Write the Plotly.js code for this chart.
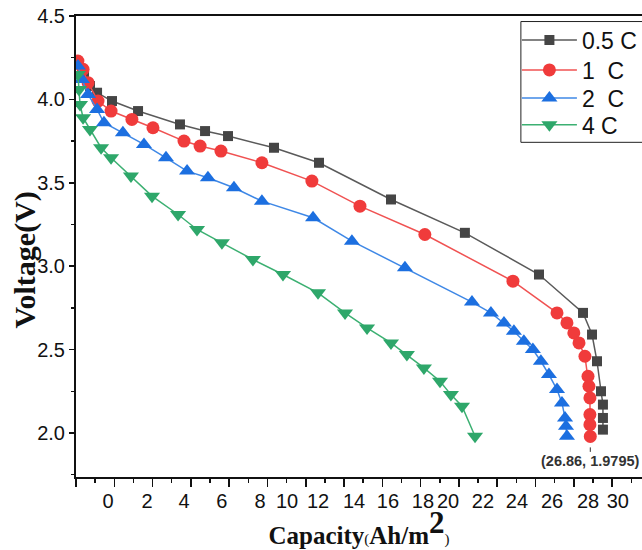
<!DOCTYPE html>
<html>
<head>
<meta charset="utf-8">
<script src="https://cdn.plot.ly/plotly-3.0.1.min.js"></script>
<style>html,body{margin:0;padding:0;background:#fff;}#chart{width:642px;height:550px;}</style>
</head>
<body>
<div id="chart"></div>
<script>
// Series names
const seriesNames = ['0.5\u00a0C', '1\u00a0\u00a0C', '2\u00a0\u00a0C', '4\u00a0C'];

// 0.5 C
const capHalfC = [0.1, 0.42, 0.73, 1.1, 1.88, 3.24, 5.43, 6.74, 7.94, 10.34, 12.69, 16.45, 20.31, 24.18, 26.48, 26.95, 27.21, 27.42, 27.52, 27.52, 27.52];
const voltHalfC = [4.21, 4.14, 4.08, 4.04, 3.99, 3.93, 3.85, 3.81, 3.78, 3.71, 3.62, 3.40, 3.20, 2.95, 2.72, 2.59, 2.43, 2.25, 2.17, 2.09, 2.02];

// 1 C
const cap1C = [0.1, 0.37, 0.63, 1.15, 1.83, 2.92, 4.02, 5.64, 6.48, 7.57, 9.71, 12.32, 14.83, 18.22, 22.82, 25.12, 25.64, 26.0, 26.27, 26.58, 26.74, 26.79, 26.84, 26.84, 26.84, 26.86];
const volt1C = [4.23, 4.18, 4.10, 3.99, 3.93, 3.88, 3.83, 3.75, 3.72, 3.69, 3.62, 3.51, 3.36, 3.19, 2.91, 2.72, 2.66, 2.60, 2.54, 2.46, 2.34, 2.28, 2.21, 2.11, 2.05, 1.9795];

// 2 C
const cap2C = [0.1, 0.31, 0.63, 1.1, 1.46, 2.45, 3.55, 4.70, 5.80, 6.89, 8.25, 9.71, 12.38, 14.41, 17.18, 20.68, 21.67, 22.35, 22.87, 23.39, 23.86, 24.28, 24.70, 25.12, 25.38, 25.54, 25.59, 25.64];
const volt2C = [4.20, 4.12, 4.03, 3.94, 3.86, 3.80, 3.73, 3.65, 3.57, 3.53, 3.47, 3.39, 3.29, 3.15, 2.99, 2.785, 2.72, 2.66, 2.61, 2.55, 2.50, 2.43, 2.35, 2.26, 2.18, 2.09, 2.04, 1.98];

// 4 C
const cap4C = [0.1, 0.16, 0.21, 0.37, 0.73, 1.31, 1.83, 2.87, 3.97, 5.33, 6.32, 7.62, 9.24, 10.81, 12.64, 14.05, 15.20, 16.45, 17.28, 18.17, 19.01, 19.58, 20.16, 20.84];
const volt4C = [4.15, 4.06, 3.97, 3.89, 3.82, 3.71, 3.65, 3.54, 3.42, 3.31, 3.22, 3.14, 3.04, 2.95, 2.84, 2.72, 2.63, 2.54, 2.47, 2.39, 2.31, 2.23, 2.16, 1.98];

// Tick labels as printed under the capacity axis, and where they sit on it (Ah/m2)
const xTickLabels = ['0', '2', '4', '6', '8', '10', '12', '14', '16', '18', '20', '22', '24', '26', '28', '30'];
const xTickLabelAt = [1.67, 3.71, 5.64, 7.62, 9.61, 11.02, 12.64, 14.52, 16.29, 18.12, 19.43, 21.25, 23.03, 24.86, 26.74, 28.30];

// Highlighted point
const markPoint = {x: 26.86, y: 1.9795, label: '(26.86, 1.9795)'};

const X_RANGE = [0, 29.56];
const Y_RANGE = [1.736, 4.5];

function trace(x, y, name, lineColor, markerColor, symbol, size, legendId) {
  return {
    x: x, y: y, name: name, type: 'scatter', mode: 'lines+markers',
    line: {color: lineColor, width: 1.5},
    marker: {color: markerColor, symbol: symbol, size: size, line: {width: 0}},
    legend: legendId
  };
}

const data = [
  trace(capHalfC, voltHalfC, seriesNames[0], '#5a5a5a', '#454545', 'square', 10, 'legend'),
  trace(cap1C, volt1C, seriesNames[1], '#f05252', '#f03b3b', 'circle', 13, 'legend2'),
  trace(cap2C, volt2C, seriesNames[2], '#3f88e6', '#1c6fe0', 'triangle-up', 14, 'legend3'),
  trace(cap4C, volt4C, seriesNames[3], '#3cb072', '#2ea76a', 'triangle-down', 14, 'legend4')
];

// dummy invisible trace to activate the label axis
data.push({x: [X_RANGE[0]], y: [Y_RANGE[0]], xaxis: 'x2', yaxis: 'y', mode: 'markers', marker: {opacity: 0}, showlegend: false, hoverinfo: 'skip'});

function legendAt(yPaper) {
  return {
    x: 0.779, y: yPaper, xanchor: 'left', yanchor: 'middle',
    bgcolor: 'rgba(0,0,0,0)', borderwidth: 0,
    font: {size: 23, color: '#111'}, itemwidth: 55
  };
}

const layout = {
  width: 642, height: 550,
  margin: {l: 76, r: 0, t: 16, b: 73},
  paper_bgcolor: '#fff', plot_bgcolor: '#fff',
  font: {family: 'Arial, Liberation Sans, sans-serif', color: '#111'},
  showlegend: true,
  legend: legendAt(0.948),
  legend2: legendAt(0.883),
  legend3: legendAt(0.822),
  legend4: legendAt(0.764),
  shapes: [{
    type: 'rect', xref: 'paper', yref: 'paper', layer: 'above',
    x0: 0.786, x1: 1.1, y0: 0.726, y1: 0.988,
    line: {color: '#222', width: 1}, fillcolor: '#fff'
  }],
  xaxis: {
    range: X_RANGE, showgrid: false, zeroline: false,
    showline: true, linecolor: '#111', linewidth: 2, mirror: true,
    ticks: 'outside', ticklen: 8, tickwidth: 1.5, tickcolor: '#111',
    tick0: 0, dtick: 2, showticklabels: false,
    minor: {ticks: 'outside', ticklen: 4, tickwidth: 1.5, tickcolor: '#111', dtick: 1, tick0: 0},
    title: {
      text: "<b>Capacity</b><span style='font-size:15px'>(</span><b>Ah/m</b><sup><b><span style='font-size:31px'>2</span></b></sup><span style='font-size:15px'>)</span>",
      font: {family: 'Times New Roman, Liberation Serif, serif', size: 25, color: '#111'},
      standoff: 40
    }
  },
  xaxis2: {
    overlaying: 'x', anchor: 'y', side: 'bottom',
    range: X_RANGE, showgrid: false, zeroline: false, showline: false,
    ticks: 'outside', ticklen: 6, tickcolor: 'rgba(0,0,0,0)',
    tickvals: xTickLabelAt, ticktext: xTickLabels,
    tickfont: {size: 20, color: '#111'}
  },
  yaxis: {
    range: Y_RANGE, showgrid: false, zeroline: false,
    showline: true, linecolor: '#111', linewidth: 2,
    ticks: 'outside', ticklen: 5, tickwidth: 1.5, tickcolor: '#111',
    tick0: 2, dtick: 0.5, tickformat: '.1f',
    tickfont: {size: 20, color: '#111'},
    minor: {ticks: 'outside', ticklen: 3, tickwidth: 1.5, tickcolor: '#111', dtick: 0.25, tick0: 2}
  },
  annotations: [{
    x: markPoint.x, y: markPoint.y, xref: 'x', yref: 'y',
    text: '<b>' + markPoint.label + '</b>',
    showarrow: true, arrowhead: 0, arrowwidth: 1, arrowcolor: '#333',
    ax: 0, ay: 25, standoff: 11,
    font: {family: 'Arial, Liberation Sans, sans-serif', size: 14.5, color: '#333'}
  }, {
    xref: 'paper', yref: 'paper', x: -0.09, y: 0.47,
    xanchor: 'center', yanchor: 'middle', textangle: -90, showarrow: false,
    text: '<b>Voltage(V)</b>',
    font: {family: 'Times New Roman, Liberation Serif, serif', size: 30, color: '#111'}
  }]
};

Plotly.newPlot('chart', data, layout, {displayModeBar: false, staticPlot: true});
</script>
</body>
</html>
